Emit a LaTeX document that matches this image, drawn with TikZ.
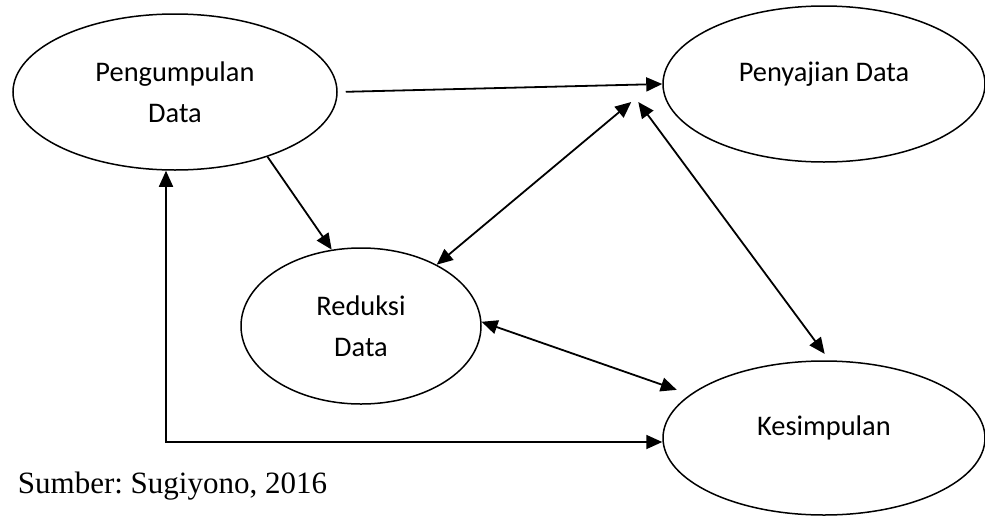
\documentclass[tikz,border=0pt]{standalone}
\usepackage{fontspec}
\setmainfont{Carlito}
\newfontfamily\capfont{Liberation Serif}
\usetikzlibrary{arrows.meta,positioning,shapes.geometric}

\begin{document}
\frenchspacing
\begin{tikzpicture}[>={Triangle[length=8pt,width=7pt]},auto,on grid,
                    line width=0.9pt,
                    stage/.style={ellipse,draw,line width=0.75pt,inner sep=0pt,
                                  align=center,font=\fontsize{14.2}{20.5}\selectfont},
                    oneline/.style={text depth=12pt}]

  \useasboundingbox (0,0) rectangle (492.5pt,258pt);

  \node[stage,minimum width=162pt,minimum height=78pt] (peng) at (87.5pt,212pt)
        {Pengumpulan\\Data};
  \node[stage,oneline,minimum width=161pt,minimum height=78pt] (peny)
        [above right=4pt and 324.5pt of peng] {Penyajian Data};
  \node[stage,oneline,minimum width=161pt,minimum height=77pt] (kesi)
        [below=177pt of peny] {Kesimpulan};
  \node[stage,minimum width=120pt,minimum height=78pt] (redu)
        [below right=117pt and 93pt of peng] {Reduksi\\Data};

  \node[anchor=base west,inner sep=0pt,font=\capfont\fontsize{15.5}{18}\selectfont]
        (src) at (8.5pt,11.5pt) {Sumber: Sugiyono, 2016};

  % points just left of Penyajian where the two arrows stop
  \coordinate (toPenyR) at ([shift={(-15.5pt,-9pt)}]peny.west);
  \coordinate (toPenyK) at ([shift={(-12pt,-9pt)}]peny.west);

  \path (peng.east) edge [->,shorten <=4pt] (peny.west)
        (peng.-35)  edge [->] (redu.111)
        (redu.39.5) edge [<->] (toPenyR)
        (toPenyK)   edge [<->,shorten >=4pt] (kesi.86)
        (redu.2)    edge [<->,shorten >=7pt] (kesi.162);

  \draw[<->] ([yshift=-2pt]kesi.west) -| ([xshift=-4.5pt]peng.south);
\end{tikzpicture}
\end{document}
